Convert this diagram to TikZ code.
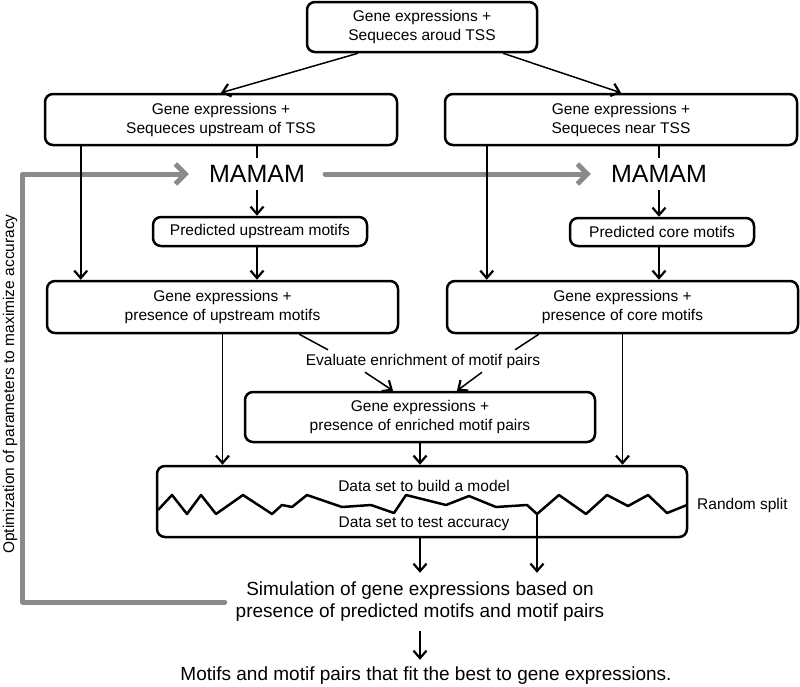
\documentclass[tikz,border=0pt]{standalone}
\usepackage{fontspec}
\setmainfont{Liberation Sans}
\usetikzlibrary{arrows.meta}
\definecolor{myGray}{RGB}{138,138,138}
\tikzset{
	roundBox/.style={draw,line width=2.5pt,rounded corners=8pt,align=center,inner sep=0pt,font=\fontsize{15.5}{19}\selectfont},
	plainText/.style={inner sep=0pt,align=center,font=\fontsize{15.5}{19}\selectfont},
	bigText/.style={inner sep=0pt,align=center,font=\fontsize{19}{22}\selectfont},
	mamamText/.style={inner xsep=20pt,inner ysep=0pt,minimum height=32pt,font=\fontsize{25}{30}\selectfont},
	myLine/.style={line width=1.5pt},
	myArrow/.style={line width=1.5pt,-{Straight Barb[length=7.5pt,width=13pt,line width=2.2pt]}},
	grayArrow/.style={myGray,line width=5pt,line cap=round,line join=round,-{Straight Barb[length=10pt,width=20pt]}}
}

\begin{document}
\begin{tikzpicture}[x=1pt,y=-1pt]
		\useasboundingbox (0,0) rectangle (800,686);
		
		\node[roundBox,minimum width=230pt,minimum height=50pt] (top) at (422,27) {Gene expressions +\\Sequeces aroud TSS};
		\node[roundBox,minimum width=352pt,minimum height=51pt] (upstr) at (221,119.5) {Gene expressions +\\Sequeces upstream of TSS};
		\node[roundBox,minimum width=352pt,minimum height=51pt] (near) at (621,119.5) {Gene expressions +\\Sequeces near TSS};
		\node[mamamText] (mamamL) at (257,174) {MAMAM};
		\node[mamamText] (mamamR) at (659,174) {MAMAM};
		\node[roundBox,minimum width=214pt,minimum height=29pt] (predUp) at (260,231.5) {Predicted upstream motifs};
		\node[roundBox,minimum width=184pt,minimum height=28pt] (predCore) at (662,232) {Predicted core motifs};
		\node[roundBox,minimum width=351pt,minimum height=52pt] (presUp) at (222.5,307) {Gene expressions +\\presence of upstream motifs};
		\node[roundBox,minimum width=351pt,minimum height=52pt] (presCore) at (622.5,307) {Gene expressions +\\presence of core motifs};
		\node[plainText,minimum height=22pt] (evaluate) at (423,361) {Evaluate enrichment of motif pairs};
		\node[roundBox,minimum width=350pt,minimum height=50pt] (enriched) at (420,417) {Gene expressions +\\presence of enriched motif pairs};
		\node[roundBox,minimum width=530pt,minimum height=71pt] (split) at (422,501.5) {};
		\node[plainText] (build) at (424,486) {Data set to build a model};
		\node[plainText] (test) at (424,524) {Data set to test accuracy};
		\node[plainText,anchor=west] (rsplit) at (697,505) {Random split};
		\node[bigText,minimum width=390pt,minimum height=58pt] (sim) at (420,602) {Simulation of gene expressions based on\\presence of predicted motifs and motif pairs};
		\node[bigText,minimum height=32pt] (final) at (426,676) {Motifs and motif pairs that fit the best to gene expressions.};
		\node[plainText,rotate=90] (optim) at (10,384) {Optimization of parameters to maximize accuracy};
		
		\draw[grayArrow] (sim.west) -- ++(-202,0) |- (mamamL.west);
		\draw[grayArrow] (mamamL.east) -- (mamamR.west);
		
		\coordinate (upL) at ([xshift=37pt]upstr.south west);
		\coordinate (upR) at ([xshift=43pt]near.south west);
		\coordinate (vee) at (537,514);
		
		\draw[myArrow] ([xshift=-64pt]top.south) -- (upstr.north);
		\draw[myArrow] ([xshift=81pt]top.south) -- (near.north);
		\draw[myLine] (upstr.south -| mamamL) -- (mamamL.north);
		\draw[myLine] (near.south -| mamamR) -- (mamamR.north);
		\draw[myArrow] (mamamL.south) -- (predUp.north -| mamamL);
		\draw[myArrow] (mamamR.south) -- (predCore.north -| mamamR);
		\draw[myArrow] (upL) -- (upL |- presUp.north);
		\draw[myArrow] (upR) -- (upR |- presCore.north);
		\draw[myArrow] (predUp.south -| mamamL) -- (presUp.north -| mamamL);
		\draw[myArrow] (predCore.south -| mamamR) -- (presCore.north -| mamamR);
		
		\draw[myLine] ([xshift=-100pt]presUp.south east) -- ([xshift=-95pt]evaluate.north);
		\draw[myLine] ([xshift=93pt]presCore.south west) -- ([xshift=92pt]evaluate.north);
		\draw[myArrow] ([xshift=-58pt]evaluate.south) -- ([xshift=-27pt]enriched.north);
		\draw[myArrow] ([xshift=59pt]evaluate.south) -- ([xshift=37pt]enriched.north);
		
		\draw[myArrow] (presUp.south) -- (presUp.south |- split.north);
		\draw[myArrow] (enriched.south) -- (enriched.south |- split.north);
		\draw[myArrow] (presCore.south) -- (presCore.south |- split.north);
		
		\draw[line width=2.5pt,line join=round] (158,510) -- (172,495) -- (187,514) -- (201,495) -- (216,514) -- (243,495) -- (272,514) -- (282,505) -- (292,507) -- (307,495) -- (342,507) -- (371,505) -- (394,513) -- (406,495) -- (446,505) -- (469,496) -- (496,507) -- (527,505) -- (vee) -- (559,495) -- (586,514) -- (607,495) -- (628,506) -- (648,495) -- (667,513) -- (687,505);
		
		\draw[myArrow] (vee) -- (vee |- sim.north);
		\draw[myArrow] (split.south -| sim) -- (sim.north);
		\draw[myArrow] (sim.south) -- (sim.south |- final.north);
	\end{tikzpicture}
\end{document}
